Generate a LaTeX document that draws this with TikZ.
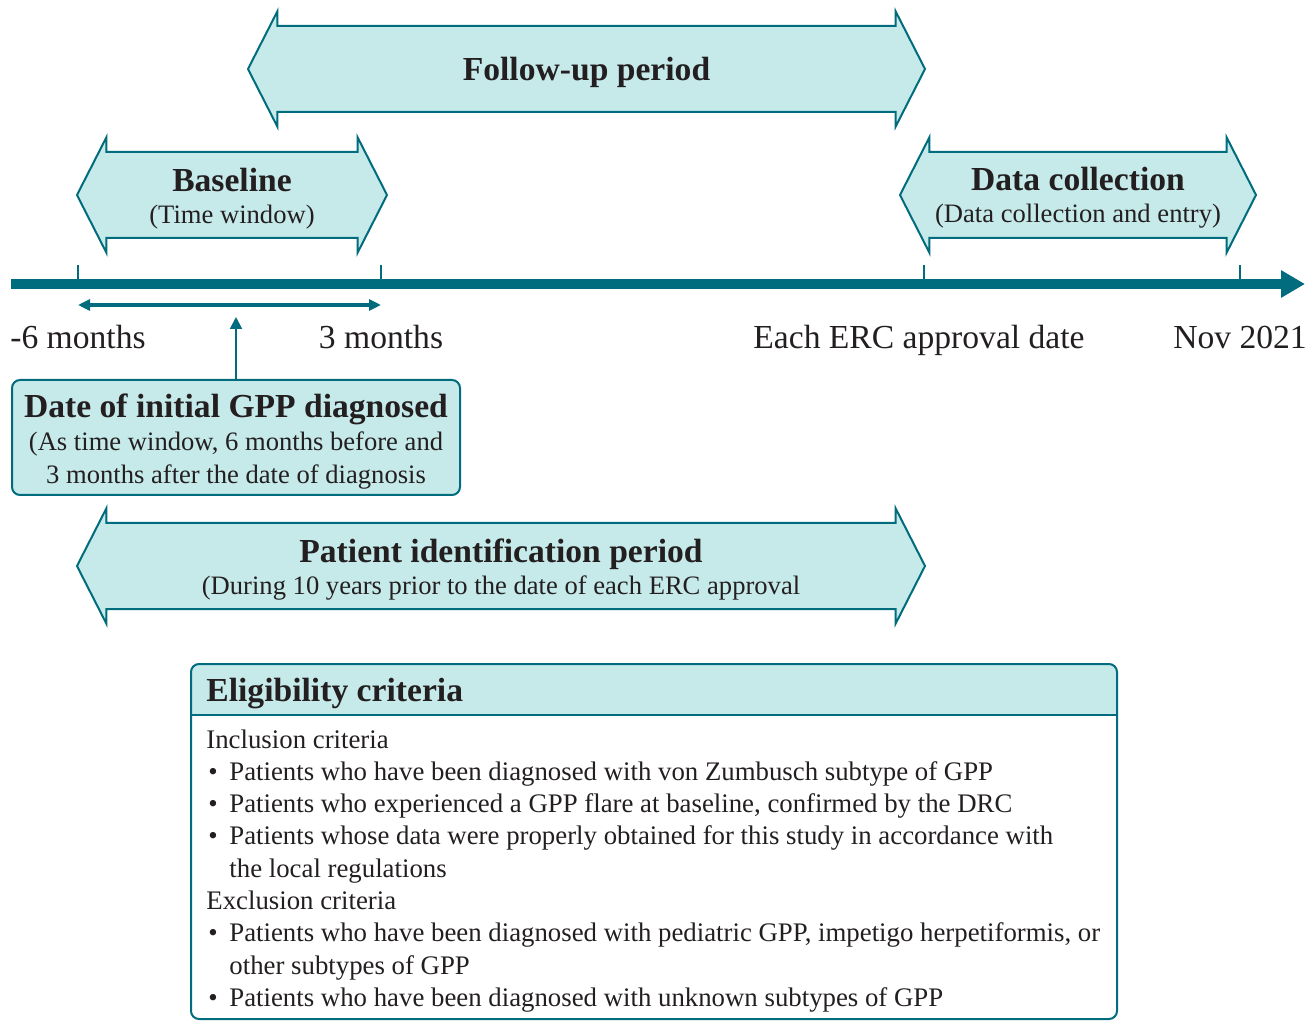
\documentclass[tikz,border=0pt]{standalone}
\usepackage{fontspec}
\setmainfont{Liberation Serif}
\usetikzlibrary{positioning, arrows.meta, shapes.arrows}
\definecolor{tealline}{RGB}{0,108,125}
\definecolor{tealfill}{RGB}{198,234,234}
\definecolor{inkc}{RGB}{35,31,32}
\newcommand{\critem}{\makebox[11.5pt][l]{\hspace{1pt}\textbullet}}
\newcommand{\critind}{\hspace*{11.5pt}}
\newcommand{\ttlfont}{\bfseries\fontsize{16.8pt}{16pt}\selectfont}

\begin{document}
\begin{tikzpicture}[x=0.5pt, y=-0.5pt,
	period/.style={double arrow, draw=tealline, fill=tealfill, line width=1pt,
		minimum width=56.5pt, double arrow head extend=7.25pt, double arrow tip angle=126,
		inner xsep=0pt, inner ysep=21pt},
	ptext/.style={align=center, inner sep=0pt, text=inkc, yshift=-1.6pt,
		font=\fontsize{13.3pt}{16pt}\selectfont},
	tlabel/.style={anchor=base, text=inkc, font=\fontsize{16.8pt}{20pt}\selectfont},
	tick/.style={draw=tealline, line width=1pt}]

		\useasboundingbox (0,0) rectangle (1307,1021);

		% period arrows %
		\node[period, minimum height=338.5pt] (fu) at (586.5,69) {};
		\node[period, minimum height=155pt] (bl) at (232,195) {};
		\node[period, minimum height=178pt] (dc) at (1078,195) {};
		\node[period, minimum height=424pt] (pi) at (501,566) {};

		\node[ptext, yshift=-0.3pt] (fut) at (fu.center) {{\ttlfont Follow-up period}};
		\node[ptext] (blt) at (bl.center) {{\ttlfont Baseline}\\(Time window)};
		\node[ptext] (dct) at (dc.center) {{\ttlfont Data collection}\\(Data collection and entry)};
		\node[ptext] (pit) at (pi.center) {{\ttlfont Patient identification period}\\(During 10 years prior to the date of each ERC approval};

		% timeline %
		\draw[tealline, line width=5pt, -{Triangle[length=12pt, width=13pt]}] (11,284) -- (1305,284);
		\coordinate (t1) at (78,284);
		\coordinate (t2) at (381,284);
		\coordinate (t3) at (924,284);
		\coordinate (t4) at (1240,284);
		\draw[tick] (t1) -- ++(0,-19);
		\draw[tick] (t2) -- ++(0,-19);
		\draw[tick] (t3) -- ++(0,-19);
		\draw[tick] (t4) -- ++(0,-19);

		\node[tlabel] (l1) at (78,349) {-6 months};
		\node[tlabel] (l2) at (381,349) {3 months};
		\node[tlabel] (l3) at (919,349) {Each ERC approval date};
		\node[tlabel] (l4) at (1240,349) {Nov 2021};

		\coordinate (w1) at (78,305);
		\coordinate (w2) at (381,305);
		\draw[tealline, line width=2pt, {Triangle[length=6pt, width=5.5pt]}-{Triangle[length=6pt, width=5.5pt]}] (w1) -- (w2);

		% diagnosis box %
		\node[draw=tealline, fill=tealfill, line width=1pt, rounded corners=4pt,
			minimum width=224pt, minimum height=57.5pt, inner sep=0pt] (dg) at (236,437.5) {};
		\node[ptext, yshift=-0.3pt, font=\fontsize{13.3pt}{16.5pt}\selectfont] (dgt) at (dg.center)
			{{\bfseries\fontsize{16.8pt}{16.5pt}\selectfont Date of initial GPP diagnosed}\\(As time window, 6 months before and\\3 months after the date of diagnosis};
		\coordinate (dx) at (236,317);
		\draw[tealline, line width=1pt, -{Triangle[length=6pt, width=6pt]}] (dg.north) -- (dx);

		% eligibility box %
		\begin{scope}
			\clip[rounded corners=4pt] (191,664) rectangle (1117,1019);
			\fill[tealfill] (191,664) rectangle (1117,715);
		\end{scope}
		\draw[tealline, line width=1pt, rounded corners=4pt] (191,664) rectangle (1117,1019);
		\draw[tealline, line width=1pt] (191,715) -- (1117,715);
		\node[anchor=west, text=inkc, inner sep=0pt, font=\ttlfont] (et) at (206,694) {Eligibility criteria};
		\node[anchor=north west, align=left, inner sep=0pt, text=inkc,
			font=\fontsize{13.4pt}{16.15pt}\selectfont] (ec) at (206,729) {Inclusion criteria\\
			\critem Patients who have been diagnosed with von Zumbusch subtype of GPP\\
			\critem Patients who experienced a GPP flare at baseline, confirmed by the DRC\\
			\critem Patients whose data were properly obtained for this study in accordance with\\
			\critind the local regulations\\
			Exclusion criteria\\
			\critem Patients who have been diagnosed with pediatric GPP, impetigo herpetiformis, or\\
			\critind other subtypes of GPP\\
			\critem Patients who have been diagnosed with unknown subtypes of GPP};

\end{tikzpicture}
\end{document}
